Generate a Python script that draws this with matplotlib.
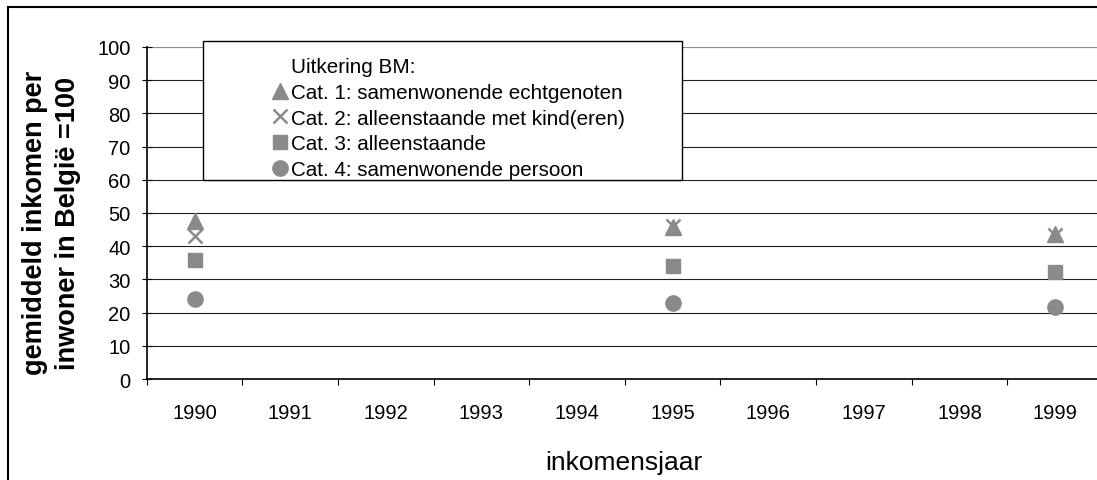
import matplotlib.pyplot as plt
from matplotlib.lines import Line2D
from matplotlib.patches import Rectangle

plt.rcParams['font.family'] = ['Liberation Sans', 'DejaVu Sans']

jaren = [1990, 1991, 1992, 1993, 1994, 1995, 1996, 1997, 1998, 1999]
meetjaren = [1990, 1995, 1999]
cat1 = [47.6, 45.8, 43.6]   # samenwonende echtgenoten
cat2 = [43.0, 46.0, 43.3]   # alleenstaande met kind(eren)
cat3 = [35.7, 34.0, 32.3]   # alleenstaande
cat4 = [24.1, 22.9, 21.8]   # samenwonende persoon
labels = ["Cat. 1: samenwonende echtgenoten",
          "Cat. 2: alleenstaande met kind(eren)",
          "Cat. 3: alleenstaande",
          "Cat. 4: samenwonende persoon"]

W, H = 1097, 481
fig = plt.figure(figsize=(W / 100, H / 100), dpi=100)
ax = fig.add_axes([146.7 / W, 1 - 380 / H, (1103 - 146.7) / W, 332 / H])

grijs = '#8a8a8a'
xpos = [jaren.index(j) for j in meetjaren]
stijlen = [dict(marker='^', ms=11),
           dict(marker='x', ms=10, mew=1.8),
           dict(marker='s', ms=10),
           dict(marker='o', ms=11)]
for vals, st in zip([cat1, cat2, cat3, cat4], stijlen):
    ax.plot(xpos, vals, ls='none', color=grijs, mec=grijs, zorder=3, **st)

ax.set_xlim(-0.5, len(jaren) - 0.5)
ax.set_ylim(0, 100)
ax.set_yticks(range(0, 101, 10))
for v in range(10, 100, 10):
    ax.axhline(v, color='#222222', lw=0.8, zorder=1)
ax.axhline(100, color='#8c8c8c', lw=1.6, zorder=1)

ax.set_xticks(range(len(jaren)))
ax.set_xticklabels([str(j) for j in jaren])
ax.set_xticks([i - 0.5 for i in range(len(jaren) + 1)], minor=True)
ax.tick_params(axis='x', which='major', length=0, pad=17, labelsize=14.5)
ax.tick_params(axis='x', which='minor', length=4.5, width=0.8, direction='out')
ax.tick_params(axis='y', length=7, width=0.8, direction='inout', pad=8, labelsize=14.5)
for s in ['top', 'right']:
    ax.spines[s].set_visible(False)
ax.spines['left'].set_linewidth(1.2)
ax.spines['bottom'].set_linewidth(1.2)

fig.text(624 / W, 1 - 463 / H, 'inkomensjaar', fontsize=19, ha='center', va='center')
fig.text(52 / W, 1 - 223 / H, 'gemiddeld inkomen per\ninwoner in België =100',
         fontsize=19.5, fontweight='bold', rotation=90, ha='center', va='center',
         multialignment='center', linespacing=1.35)

# buitenkader
fig.patches.append(Rectangle((8 / W, -0.2), 1.2, 1 - 8 / H + 0.2, transform=fig.transFigure,
                             fill=False, ec='black', lw=1.5, zorder=0))

# legende
fig.patches.append(Rectangle((203 / W, 1 - 181 / H), 479 / W, 139 / H, transform=fig.transFigure,
                             fc='white', ec='black', lw=1, zorder=4))
handles = [Line2D([], [], ls='none', marker='none')]
for st in stijlen:
    handles.append(Line2D([], [], ls='none', color=grijs, mec=grijs, **st))
leg = fig.legend(handles, ["Uitkering BM:"] + labels, loc='upper left',
                 bbox_to_anchor=(272 / W, 1 - 58 / H), bbox_transform=fig.transFigure,
                 frameon=False, fontsize=14.9, handlelength=0.8, handletextpad=0.1,
                 borderpad=0, borderaxespad=0, labelspacing=0.33)
leg.set_zorder(6)

fig.savefig('out.png', dpi=100)
